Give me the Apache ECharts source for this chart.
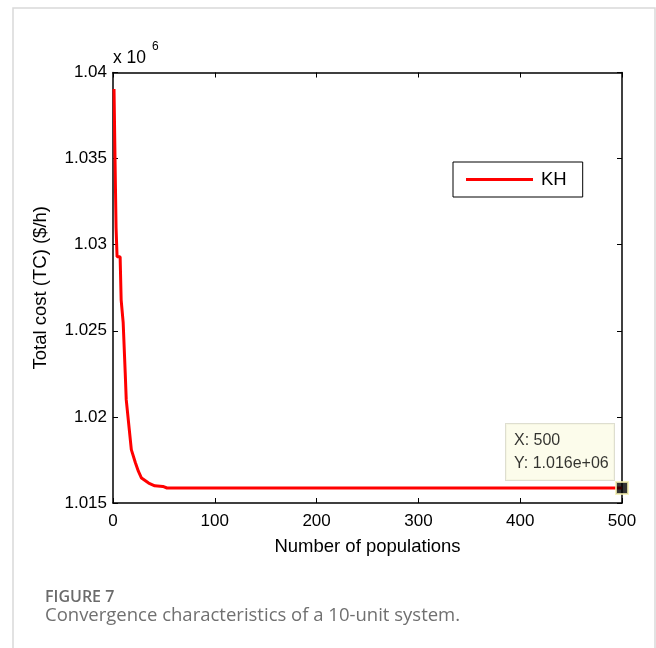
<!DOCTYPE html>
<html>
<head>
<meta charset="utf-8">
<script src="https://cdn.jsdelivr.net/npm/echarts@6/dist/echarts.min.js"></script>
<style>
html,body{margin:0;padding:0;background:#fff;}
#chart{width:656px;height:648px;}
</style>
</head>
<body>
<div id="chart"></div>
<script>
// Data (Total cost in $/h vs number of populations / iterations)
var populations = [1, 2, 3, 4, 7, 8, 9, 10, 12, 13, 16, 18, 22, 25, 28, 35, 41, 49, 53, 500];
var totalCost = [1039040, 1034900, 1031000, 1029300, 1029300, 1026800, 1026800, 1025470, 1022560, 1021000, 1019260, 1018100, 1017340, 1016830, 1016450, 1016160, 1016000, 1015960, 1015870, 1015870];
var xTicks = [0, 100, 200, 300, 400, 500];
var yTicks = [1015000, 1020000, 1025000, 1030000, 1035000, 1040000];
var seriesName = 'KH';
var tipPoint = [500, 1015870];
var tipText = ['X: 500', 'Y: 1.016e+06'];
var captionTitle = 'FIGURE 7';
var captionText = 'Convergence characteristics of a 10-unit system.';

var lineData = populations.map(function (p, i) { return [p, totalCost[i]]; });
var FONT = '"Liberation Sans", Arial, sans-serif';

var chart = echarts.init(document.getElementById('chart'), null, {renderer: 'canvas'});
var axisCommon = {
  axisLine: {show: true, onZero: false, lineStyle: {color: '#000', width: 1.5}},
  axisTick: {show: true, inside: true, length: 5, lineStyle: {color: '#000', width: 1}},
  splitLine: {show: false}
};
var option = {
  animation: false,
  backgroundColor: '#fff',
  grid: {left: 113, right: 34, top: 72.5, bottom: 145, containLabel: false},
  xAxis: [
    Object.assign({}, axisCommon, {
      type: 'value', min: xTicks[0], max: xTicks[xTicks.length - 1], interval: 100, position: 'bottom',
      name: 'Number of populations', nameLocation: 'middle', nameGap: 34,
      nameTextStyle: {fontFamily: FONT, fontSize: 18.5, color: '#000'},
      axisLabel: {fontFamily: FONT, fontSize: 17, color: '#000', margin: 10}
    }),
    Object.assign({}, axisCommon, {
      type: 'value', min: xTicks[0], max: xTicks[xTicks.length - 1], interval: 100, position: 'top',
      axisLabel: {show: false}
    })
  ],
  yAxis: [
    Object.assign({}, axisCommon, {
      type: 'value', min: yTicks[0], max: yTicks[yTicks.length - 1], interval: 5000, position: 'left',
      name: 'Total cost (TC) ($/h)', nameLocation: 'middle', nameGap: 63,
      nameTextStyle: {fontFamily: FONT, fontSize: 18.5, color: '#000'},
      axisLabel: {fontFamily: FONT, fontSize: 17, color: '#000', margin: 6,
        formatter: function (v) { return String(+(v / 1e6).toFixed(3)); }}
    }),
    Object.assign({}, axisCommon, {
      type: 'value', min: yTicks[0], max: yTicks[yTicks.length - 1], interval: 5000, position: 'right',
      axisLabel: {show: false}
    })
  ],
  legend: {
    data: [seriesName],
    left: 453, top: 162,
    orient: 'vertical',
    backgroundColor: '#fff',
    borderColor: '#000', borderWidth: 1, borderRadius: 0,
    padding: [8, 16, 8, 13],
    icon: 'rect', itemWidth: 67, itemHeight: 3,
    textStyle: {fontFamily: FONT, fontSize: 18.5, color: '#000', padding: [0, 0, 0, 3]}
  },
  series: [
    {
      name: seriesName, type: 'line', data: lineData,
      xAxisIndex: 0, yAxisIndex: 0,
      showSymbol: false, symbol: 'none',
      lineStyle: {color: '#ff0000', width: 3},
      itemStyle: {color: '#ff0000'},
      z: 3
    },
    {
      name: 'tip', type: 'scatter', data: [tipPoint],
      xAxisIndex: 0, yAxisIndex: 0,
      symbol: 'rect', symbolSize: 12,
      itemStyle: {color: '#000', borderColor: '#f5f0b0', borderWidth: 2},
      z: 5,
      label: {
        show: true,
        position: [-109, -57],
        align: 'left', verticalAlign: 'top',
        formatter: tipText.join('\n'),
        fontFamily: FONT, fontSize: 16, color: '#000',
        lineHeight: 23,
        backgroundColor: '#fbfbe6',
        borderColor: '#d6d6c4', borderWidth: 1,
        padding: [5, 6, 5, 8],
        width: 94
      },
      silent: true
    }
  ],
  graphic: [
    {type: 'rect', shape: {x: 13, y: 8, width: 642, height: 660}, style: {fill: 'none', stroke: '#d9d9d9', lineWidth: 1.5}, silent: true, z: -10},
    {type: 'text', left: 113, top: 49, style: {text: 'x 10', font: '17.5px ' + FONT, fill: '#000'}},
    {type: 'text', left: 152, top: 41, style: {text: '6', font: '12px ' + FONT, fill: '#000'}},
    {type: 'text', left: 45, top: 589, style: {text: captionTitle, font: '600 16px "Open Sans", "Noto Sans", sans-serif', fill: '#6b6b6b'}},
    {type: 'text', left: 45, top: 606, style: {text: captionText, font: '18.5px "Open Sans", "Noto Sans", sans-serif', fill: '#707070'}}
  ]
};
chart.setOption(option);
</script>
</body>
</html>
